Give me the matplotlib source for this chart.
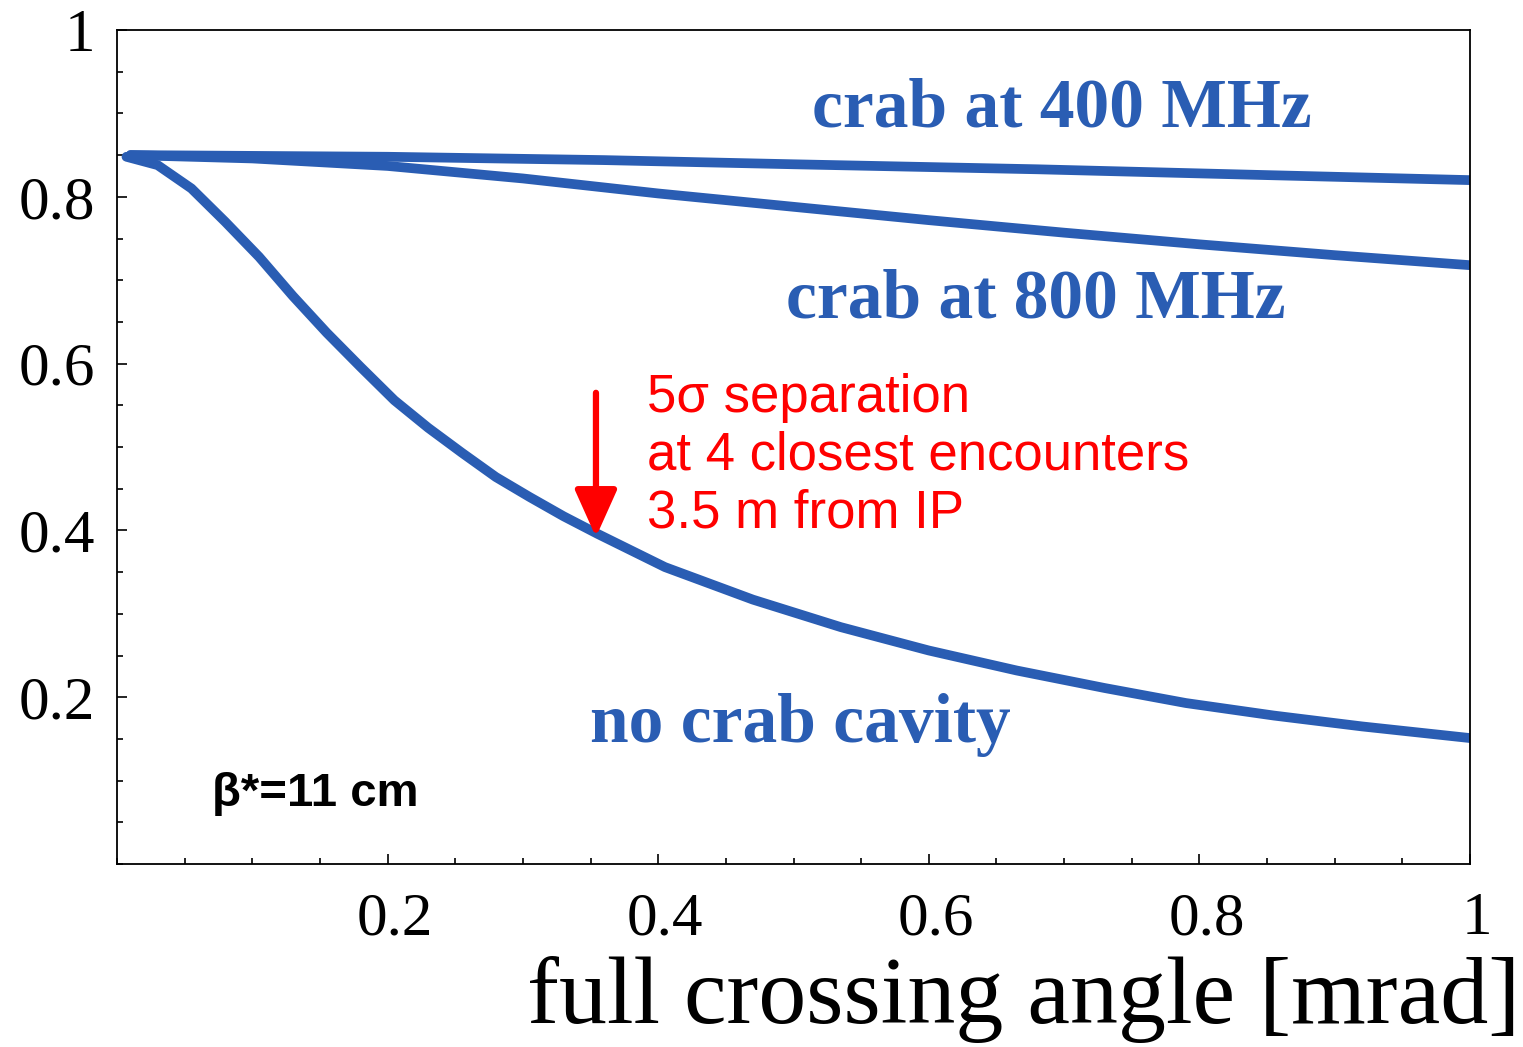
import numpy as np
import matplotlib.pyplot as plt
import matplotlib.transforms as mtransforms
from matplotlib.ticker import MultipleLocator

# Data
x_400 = [0.01, 0.2, 0.36, 0.5, 0.68, 0.85, 1.0]
y_400 = [0.85, 0.848, 0.844, 0.839, 0.833, 0.826, 0.82]

x_800 = [0.01, 0.1, 0.2, 0.3, 0.4, 0.5, 0.6, 0.7, 0.8, 0.9, 1.0]
y_800 = [0.85, 0.846, 0.837, 0.822, 0.804, 0.788, 0.772, 0.757, 0.743, 0.730, 0.718]

x_none = [0.007, 0.03, 0.055, 0.08, 0.105, 0.13, 0.155, 0.18, 0.205, 0.23,
          0.255, 0.28, 0.305, 0.33, 0.355, 0.405, 0.47, 0.535, 0.6, 0.665,
          0.73, 0.79, 0.855, 0.92, 1.0]
y_none = [0.848, 0.838, 0.81, 0.77, 0.728, 0.681, 0.637, 0.596, 0.556, 0.523,
          0.493, 0.464, 0.44, 0.417, 0.396, 0.356, 0.317, 0.284, 0.256, 0.232,
          0.211, 0.193, 0.178, 0.165, 0.151]

x_ticks = [0.2, 0.4, 0.6, 0.8, 1.0]
x_labels = ["0.2", "0.4", "0.6", "0.8", "1"]
y_ticks = [0.2, 0.4, 0.6, 0.8, 1.0]
y_labels = ["0.2", "0.4", "0.6", "0.8", "1"]

blue = "#2a5db3"
serif = ["Liberation Serif", "DejaVu Serif"]
sans = ["Liberation Sans", "DejaVu Sans"]

fig = plt.figure(figsize=(15.23, 10.47), dpi=100)
ax = fig.add_axes([117 / 1523, 183 / 1047, 1353 / 1523, 834 / 1047])

for xs, ys in [(x_400, y_400), (x_800, y_800), (x_none, y_none)]:
    ax.plot(xs, ys, color=blue, lw=7, solid_capstyle="round",
            solid_joinstyle="round")

ax.set_xlim(0, 1)
ax.set_ylim(0, 1)
ax.set_xticks(x_ticks)
ax.set_xticklabels(x_labels, fontfamily=serif, fontsize=44)
ax.set_yticks(y_ticks)
ax.set_yticklabels(y_labels, fontfamily=serif, fontsize=44)
ax.xaxis.set_minor_locator(MultipleLocator(0.05))
ax.yaxis.set_minor_locator(MultipleLocator(0.05))
ax.tick_params(which="both", direction="in", top=False, right=False, width=1.2)
ax.tick_params(which="major", length=7)
ax.tick_params(which="minor", length=4)
ax.tick_params(axis="x", which="major", pad=20)
ax.tick_params(axis="y", which="major", pad=16)

# x labels sit a little right of their ticks in the original
shift = mtransforms.ScaledTranslation(0.07, 0, fig.dpi_scale_trans)
for lbl in ax.get_xticklabels():
    lbl.set_transform(lbl.get_transform() + shift)

for s in ax.spines.values():
    s.set_linewidth(1.3)

# curve labels
ax.text(0.698, 0.905, "crab at 400 MHz", color=blue, fontfamily=serif,
        fontweight="bold", fontsize=50, ha="center", va="center")
ax.text(0.679, 0.676, "crab at 800 MHz", color=blue, fontfamily=serif,
        fontweight="bold", fontsize=50, ha="center", va="center")
ax.text(0.505, 0.167, "no crab cavity", color=blue, fontfamily=serif,
        fontweight="bold", fontsize=50, ha="center", va="center")

# annotation
ax.annotate("", xy=(0.354, 0.392), xytext=(0.354, 0.565),
            arrowprops=dict(arrowstyle="-|>,head_length=2.9,head_width=1.3",
                            color="red", lw=4.5, shrinkA=0, shrinkB=0))
ax.text(0.392, 0.49, "5\u03c3 separation\nat 4 closest encounters\n3.5 m from IP",
        color="red", fontfamily=sans, fontsize=38, ha="left", va="center",
        linespacing=1.2)
ax.text(0.07, 0.084, "\u03b2*=11 cm", color="black", fontfamily=sans,
        fontweight="bold", fontsize=34, ha="left", va="center")

fig.text(1520 / 1523, 0.045, "full crossing angle [mrad]", fontfamily=serif,
         fontsize=69, ha="right", va="center")

fig.savefig("out.png", dpi=100)
